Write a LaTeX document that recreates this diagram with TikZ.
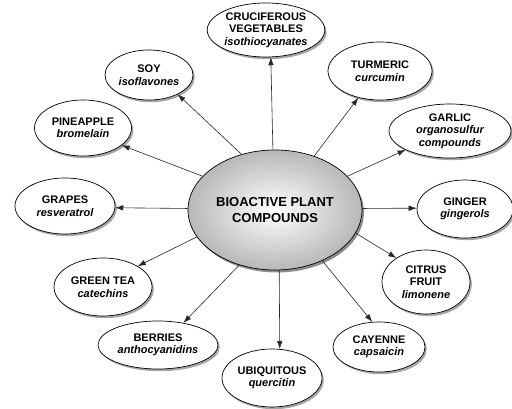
\documentclass[tikz,border=0pt]{standalone}
\usepackage{fontspec}
\setmainfont{Liberation Sans}
\usetikzlibrary{shapes.geometric,shadows,arrows.meta}
\tikzset{
  leaf/.style={ellipse, draw=black, line width=0.7pt, fill=white, inner sep=0pt, align=center,
    font=\fontsize{11}{12.5}\selectfont\bfseries,
    drop shadow={shadow xshift=1.8pt, shadow yshift=-2.2pt, opacity=0.35, fill=black}},
  hubnode/.style={ellipse, draw=black, line width=0.7pt, inner sep=0pt, align=center,
    inner color=white, outer color=black!28,
    font=\fontsize{13}{16}\selectfont\bfseries,
    drop shadow={shadow xshift=2pt, shadow yshift=-2.5pt, opacity=0.45, fill=black}},
  arr/.style={-{Latex[length=8pt,width=5.5pt]}, line width=0.6pt, draw=black!85}
}
\begin{document}
\begin{tikzpicture}[x=1pt,y=-1pt]
\useasboundingbox (0,0) rectangle (512,409);
\node[hubnode, minimum width=174pt, minimum height=120pt] (hub) at (275,210) {BIOACTIVE PLANT\\COMPOUNDS};
\node[leaf, minimum width=114pt, minimum height=54pt] (cruc) at (266,30) {CRUCIFEROUS\\VEGETABLES\\{\itshape isothiocyanates}};
\node[leaf, minimum width=88pt, minimum height=50pt] (soy) at (149,75) {SOY\\{\itshape isoflavones}};
\node[leaf, minimum width=104pt, minimum height=58pt] (turm) at (380,71) {TURMERIC\\{\itshape curcumin}};
\node[leaf, minimum width=122pt, minimum height=54pt] (garlic) at (450,131) {GARLIC\\{\itshape organosulfur}\\{\itshape compounds}};
\node[leaf, minimum width=97pt, minimum height=56pt] (pine) at (83,128) {PINEAPPLE\\{\itshape bromelain}};
\node[leaf, minimum width=100pt, minimum height=56pt] (grapes) at (65,206) {GRAPES\\{\itshape resveratrol}};
\node[leaf, minimum width=96pt, minimum height=58pt] (ginger) at (465,209) {GINGER\\{\itshape gingerols}};
\node[leaf, minimum width=98pt, minimum height=58pt] (tea) at (103,287) {GREEN TEA\\{\itshape catechins}};
\node[leaf, minimum width=88pt, minimum height=64pt] (citrus) at (426,282) {CITRUS\\FRUIT\\{\itshape limonene}};
\node[leaf, minimum width=92pt, minimum height=50pt] (cay) at (379,347) {CAYENNE\\{\itshape capsaicin}};
\node[leaf, minimum width=120pt, minimum height=48pt] (berries) at (158,345) {BERRIES\\{\itshape anthocyanidins}};
\node[leaf, minimum width=100pt, minimum height=58pt] (ubi) at (272,378) {UBIQUITOUS\\{\itshape quercitin}};
\draw[arr] (hub.92) -- (cruc.280);
\draw[arr] (hub.121) -- (soy.-34);
\draw[arr] (hub.54) -- (turm.231);
\draw[arr] (hub.25) -- (garlic.203);
\draw[arr] (hub.155) -- (pine.-24);
\draw[arr] (hub.179) -- (grapes.-2);
\draw[arr] (hub.1) -- (ginger.179);
\draw[arr] (hub.199) -- (tea.31);
\draw[arr] (hub.344) -- (citrus.141);
\draw[arr] (hub.237) -- (berries.41);
\draw[arr] (hub.274.6) -- (ubi.75);
\draw[arr] (hub.313) -- (cay.105);
\end{tikzpicture}
\end{document}
